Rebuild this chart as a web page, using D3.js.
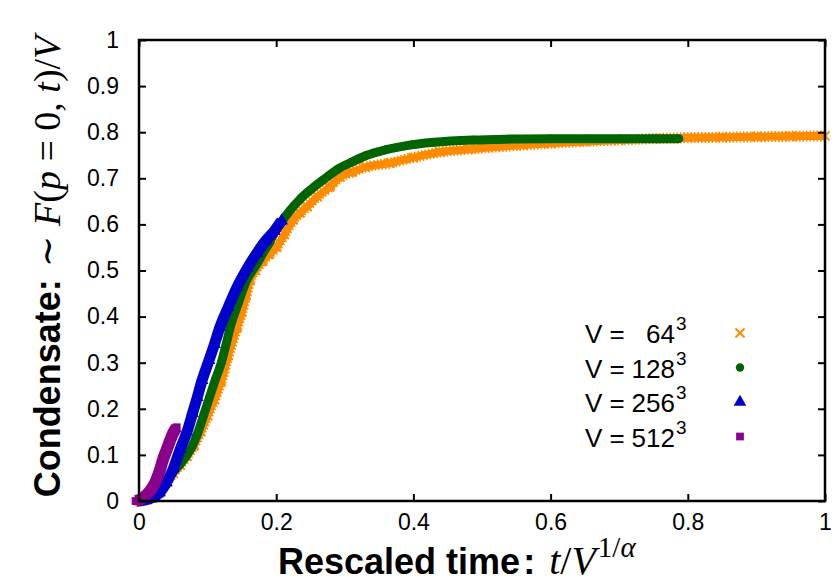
<!DOCTYPE html>
<html>
<head>
<meta charset="utf-8">
<script src="https://cdn.jsdelivr.net/npm/d3@7"></script>
<style>
body { margin: 0; background: #fff; }
svg text { font-family: "Liberation Sans", Arial, sans-serif; fill: #000; }
.math { font-family: "Liberation Serif", "DejaVu Serif", serif; font-weight: normal; }
</style>
</head>
<body>
<svg id="chart" width="840" height="582"></svg>
<script>
// tick labels
var xTicks = [0, 0.2, 0.4, 0.6, 0.8, 1];
var xLabels = ['0', '0.2', '0.4', '0.6', '0.8', '1'];
var yTicks = [0, 0.1, 0.2, 0.3, 0.4, 0.5, 0.6, 0.7, 0.8, 0.9, 1];
var yLabels = ['0', '0.1', '0.2', '0.3', '0.4', '0.5', '0.6', '0.7', '0.8', '0.9', '1'];

// V = 64^3  (orange crosses)
var t64 = [0, 0.01, 0.02, 0.03, 0.04, 0.05, 0.06, 0.07, 0.08, 0.09, 0.1, 0.11, 0.12, 0.13, 0.143, 0.15, 0.156, 0.162, 0.17, 0.18, 0.19, 0.201, 0.212, 0.225, 0.235, 0.245, 0.26, 0.278, 0.293, 0.31, 0.33, 0.366, 0.4, 0.439, 0.48, 0.52, 0.56, 0.6, 0.65, 0.7, 0.75, 0.8, 0.85, 0.9, 0.95, 1.0];
var f64 = [0, 0.002, 0.006, 0.018, 0.04, 0.06, 0.078, 0.097, 0.12, 0.15, 0.185, 0.22, 0.26, 0.315, 0.377, 0.41, 0.445, 0.479, 0.5, 0.52, 0.535, 0.551, 0.578, 0.61, 0.625, 0.638, 0.66, 0.681, 0.703, 0.713, 0.724, 0.733, 0.745, 0.757, 0.763, 0.768, 0.772, 0.776, 0.78, 0.783, 0.786, 0.788, 0.789, 0.79, 0.791, 0.792];

// V = 128^3 (green circles)
var t128 = [0, 0.01, 0.02, 0.03, 0.041, 0.05, 0.06, 0.07, 0.077, 0.085, 0.094, 0.103, 0.111, 0.12, 0.127, 0.133, 0.145, 0.157, 0.17, 0.181, 0.19, 0.2, 0.21, 0.22, 0.235, 0.25, 0.268, 0.29, 0.31, 0.332, 0.36, 0.39, 0.43, 0.487, 0.54, 0.6, 0.65, 0.7, 0.75, 0.787];
var f128 = [0, 0.002, 0.006, 0.02, 0.046, 0.063, 0.08, 0.1, 0.117, 0.145, 0.185, 0.226, 0.262, 0.3, 0.34, 0.377, 0.43, 0.479, 0.51, 0.538, 0.56, 0.59, 0.61, 0.63, 0.655, 0.675, 0.696, 0.72, 0.735, 0.75, 0.762, 0.771, 0.778, 0.783, 0.785, 0.786, 0.786, 0.786, 0.786, 0.786];

// V = 256^3 (blue triangles)
var t256 = [0, 0.01, 0.02, 0.03, 0.04, 0.05, 0.06, 0.07, 0.078, 0.085, 0.092, 0.102, 0.11, 0.118, 0.13, 0.143, 0.158, 0.172, 0.185, 0.197, 0.208];
var f256 = [0, 0.003, 0.008, 0.018, 0.04, 0.07, 0.112, 0.15, 0.19, 0.225, 0.262, 0.305, 0.34, 0.377, 0.42, 0.464, 0.505, 0.538, 0.565, 0.585, 0.608];

// V = 512^3 (purple squares)
var t512 = [-0.005, 0, 0.005, 0.01, 0.015, 0.02, 0.025, 0.03, 0.035, 0.04, 0.045, 0.05, 0.055];
var f512 = [0, 0.002, 0.006, 0.012, 0.02, 0.03, 0.045, 0.065, 0.09, 0.11, 0.13, 0.148, 0.16];

var legendNames = ['64', '128', '256', '512'];

var w = 840, h = 582;
var margin = {left: 139, right: 15, top: 40, bottom: 81};

var svg = d3.select('#chart');

var x = d3.scaleLinear().domain([0, 1]).range([margin.left, w - margin.right]);
var y = d3.scaleLinear().domain([0, 1]).range([h - margin.bottom, margin.top]);

function zip(ts, fs) { return ts.map(function(t, i) { return {t: t, f: fs[i]}; }); }

var series = [
	{name: legendNames[0], pts: zip(t64, f64), color: '#ff8c00', kind: 'cross', width: 8},
	{name: legendNames[1], pts: zip(t128, f128), color: '#006400', kind: 'circle', width: 9},
	{name: legendNames[2], pts: zip(t256, f256), color: '#0000cd', kind: 'tri', width: 11},
	{name: legendNames[3], pts: zip(t512, f512), color: '#8b008b', kind: 'square', width: 12}
];

var line = d3.line()
	.x(function(d) { return x(d.t); })
	.y(function(d) { return y(d.f); })
	.curve(d3.curveMonotoneX);

function symbolFor(kind) {
	if (kind == 'cross') return d3.symbol().type(d3.symbolTimes).size(55)();
	if (kind == 'circle') return d3.symbol().type(d3.symbolCircle).size(55)();
	if (kind == 'tri') return d3.symbol().type(d3.symbolTriangle).size(70)();
	return d3.symbol().type(d3.symbolSquare).size(60)();
}

// data
var plot = svg.append('g').attr('class', 'plot');
series.forEach(function(s) {
	var g = plot.append('g');
	if (s.kind == 'cross') {
		// ragged edge made by the crosses
		g.append('path').datum(s.pts)
			.attr('d', line).attr('fill', 'none')
			.attr('stroke', s.color).attr('stroke-width', 11)
			.attr('stroke-dasharray', '1.5 2');
	}
	g.append('path').datum(s.pts)
		.attr('d', line).attr('fill', 'none')
		.attr('stroke', s.color).attr('stroke-width', s.width)
		.attr('stroke-linecap', s.kind == 'circle' ? 'round' : 'butt')
		.attr('stroke-linejoin', 'round');
	g.selectAll('path.pt').data(s.pts).enter().append('path')
		.attr('class', 'pt')
		.attr('transform', function(d) { return 'translate(' + x(d.t) + ',' + y(d.f) + ')'; })
		.attr('d', symbolFor(s.kind))
		.attr('fill', s.color)
		.attr('stroke', s.kind == 'cross' ? s.color : 'none')
		.attr('stroke-width', s.kind == 'cross' ? 2 : 0);
});

// axes, ticks pointing inward, mirrored
var xaxis = d3.axisBottom(x).tickValues(xTicks).tickSize(-7).tickPadding(13)
	.tickFormat(function(d, i) { return xLabels[i]; });
var yaxis = d3.axisLeft(y).tickValues(yTicks).tickSize(-7).tickPadding(20)
	.tickFormat(function(d, i) { return yLabels[i]; });

svg.append('g').attr('transform', 'translate(0,' + (h - margin.bottom) + ')').call(xaxis);
svg.append('g').attr('transform', 'translate(' + margin.left + ',0)').call(yaxis);
svg.append('g').attr('transform', 'translate(0,' + margin.top + ')')
	.call(d3.axisTop(x).tickValues(xTicks).tickSize(-7).tickFormat(''));
svg.append('g').attr('transform', 'translate(' + (w - margin.right) + ',0)')
	.call(d3.axisRight(y).tickValues(yTicks).tickSize(-7).tickFormat(''));

svg.selectAll('.domain').remove();
svg.selectAll('.tick line').attr('stroke', '#000').attr('stroke-width', 2);
svg.selectAll('.tick text').attr('font-size', 23).attr('font-family', '"Liberation Sans", Arial, sans-serif');

svg.append('rect')
	.attr('x', margin.left).attr('y', margin.top)
	.attr('width', w - margin.left - margin.right)
	.attr('height', h - margin.top - margin.bottom)
	.attr('fill', 'none').attr('stroke', '#000').attr('stroke-width', 2.5);

// legend
var leg = svg.append('g').attr('transform', 'translate(585,333)');
series.forEach(function(s, i) {
	var row = leg.append('g').attr('transform', 'translate(0,' + (i * 34.5) + ')');
	row.append('text').attr('y', 10).attr('font-size', 26).text('V =');
	row.append('text').attr('x', 90).attr('y', 10).attr('font-size', 26)
		.attr('text-anchor', 'end').text(s.name);
	row.append('text').attr('x', 91).attr('y', -3).attr('font-size', 19).text('3');
	row.append('path')
		.attr('transform', 'translate(155,0)')
		.attr('d', symbolFor(s.kind))
		.attr('fill', s.color)
		.attr('stroke', s.kind == 'cross' ? s.color : 'none')
		.attr('stroke-width', s.kind == 'cross' ? 2 : 0);
});

// x title
var xt = svg.append('text').attr('x', 278).attr('y', 574).attr('font-size', 36);
xt.append('tspan').attr('font-weight', 'bold').text('Rescaled time');
xt.append('tspan').attr('font-weight', 'bold').attr('dx', 3).text(':');
xt.append('tspan').attr('class', 'math').attr('dx', 14).attr('font-size', 40).attr('font-style', 'italic').text('t');
xt.append('tspan').attr('class', 'math').attr('font-size', 40).text('/');
xt.append('tspan').attr('class', 'math').attr('font-size', 40).attr('font-style', 'italic').text('V');
xt.append('tspan').attr('class', 'math').attr('dx', 2).attr('dy', -17).attr('font-size', 29).text('1/');
xt.append('tspan').attr('class', 'math').attr('font-size', 29).attr('font-style', 'italic').text('α');

// y title
var yt = svg.append('text')
	.attr('transform', 'translate(60,' + ((h - margin.bottom + margin.top) / 2 - 4) + ') rotate(-90)')
	.attr('text-anchor', 'middle').attr('font-size', 36);
yt.append('tspan').attr('font-weight', 'bold').text('Condensate:');
yt.append('tspan').attr('class', 'math').attr('dx', 12).attr('font-size', 38).text('∼ ');
yt.append('tspan').attr('class', 'math').attr('font-size', 38).attr('font-style', 'italic').text('F');
yt.append('tspan').attr('class', 'math').attr('font-size', 38).text('(');
yt.append('tspan').attr('class', 'math').attr('font-size', 38).attr('font-style', 'italic').text('p');
yt.append('tspan').attr('class', 'math').attr('font-size', 38).text(' = 0, ');
yt.append('tspan').attr('class', 'math').attr('font-size', 38).attr('font-style', 'italic').text('t');
yt.append('tspan').attr('class', 'math').attr('font-size', 38).text(')/');
yt.append('tspan').attr('class', 'math').attr('font-size', 38).attr('font-style', 'italic').text('V');
</script>
</body>
</html>
